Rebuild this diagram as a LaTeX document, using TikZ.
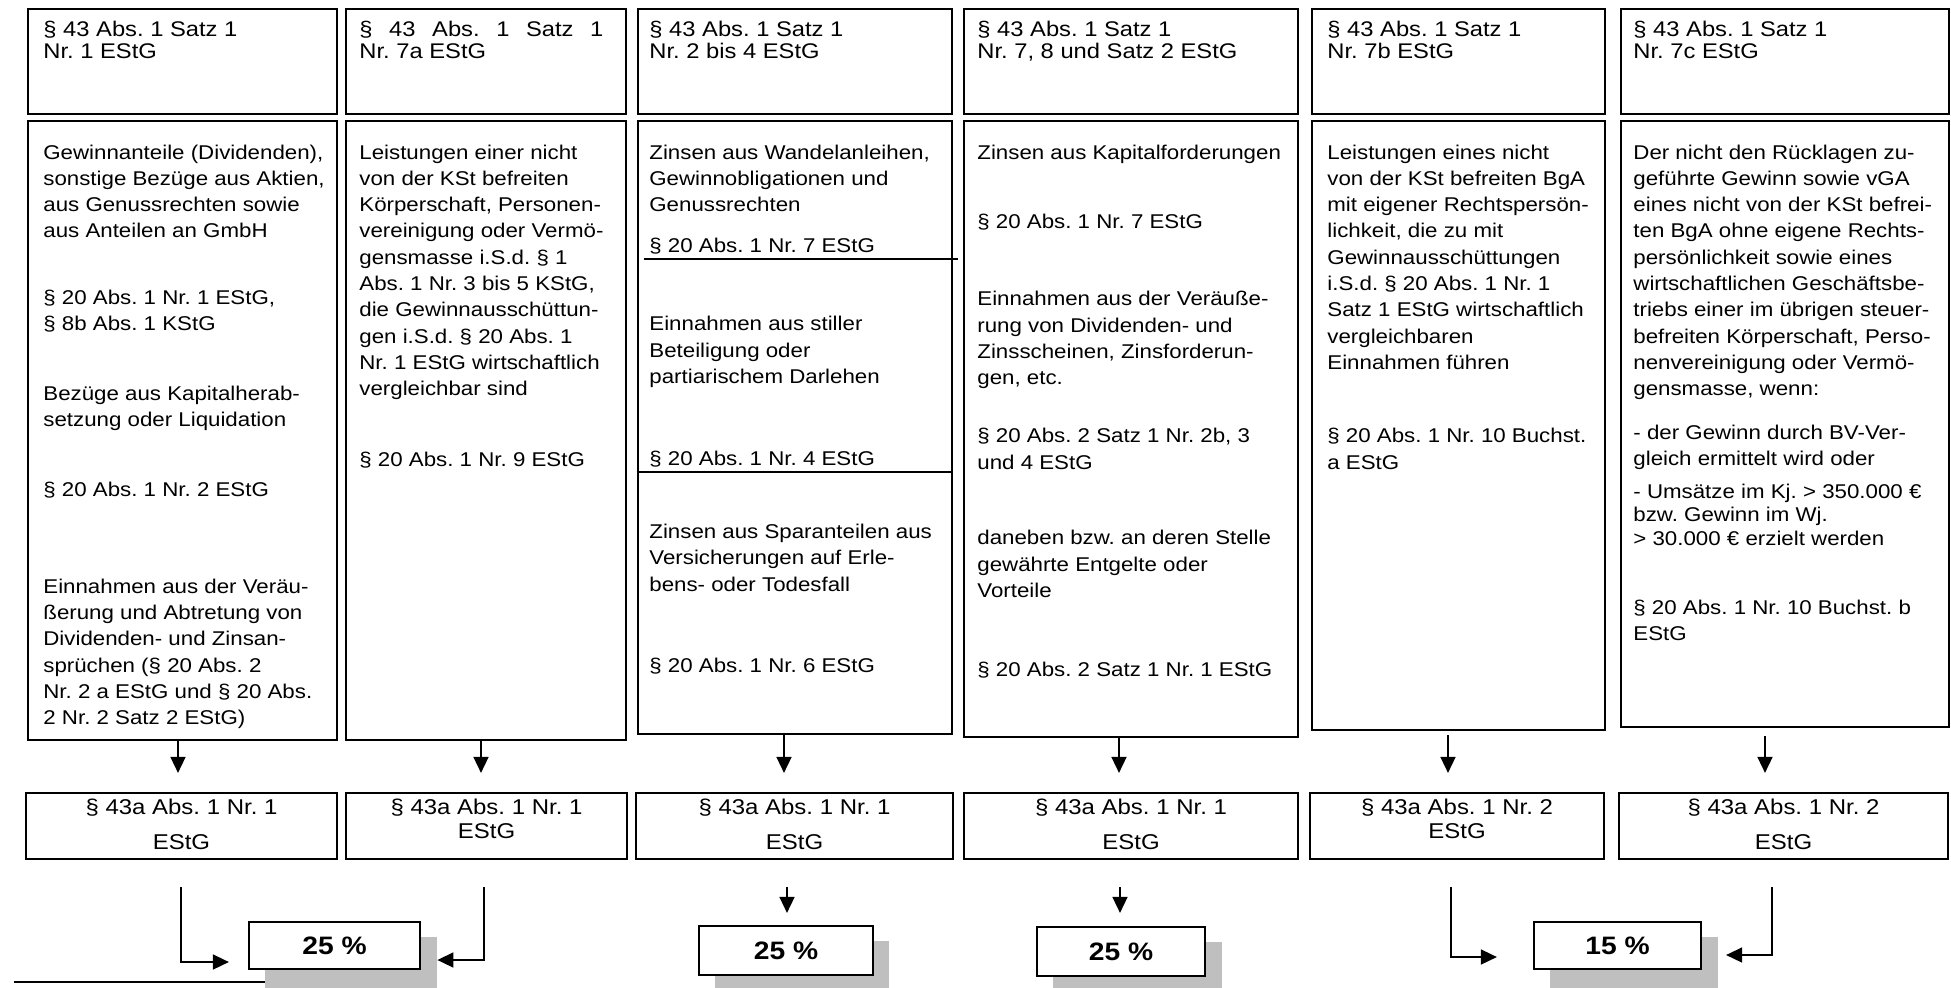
\documentclass[tikz,border=0pt]{standalone}
\usepackage{fontspec}
\setmainfont{Liberation Sans}[FakeStretch=1.12]
\usetikzlibrary{arrows.meta,fit}
\begin{document}
\frenchspacing
\begin{tikzpicture}[x=0.5pt,y=-0.5pt,
  frame/.style={draw=black, line width=1.1pt, inner sep=0pt, fill=white},
  shade/.style={fill=black!25, draw=none, inner sep=0pt},
  rule/.style={line width=1.1pt},
  txt/.style={anchor=base west, inner sep=0pt, text width=165pt, align=flush left,
    font=\fontsize{9.95pt}{13.15pt}\selectfont\frenchspacing},
  htxt/.style={anchor=base west, inner sep=0pt, text width=165pt, align=flush left,
    font=\fontsize{10.6pt}{11.3pt}\selectfont\frenchspacing},
  rtxt/.style={anchor=base, inner sep=0pt, text width=150pt, align=flush center,
    font=\fontsize{10.7pt}{17.5pt}\selectfont\frenchspacing},
  rtxtb/.style={rtxt, font=\fontsize{10.7pt}{12.3pt}\selectfont\frenchspacing},
  pcttxt/.style={inner sep=0pt, font=\fontsize{12.6pt}{14pt}\selectfont\bfseries},
  arr/.style={line width=0.8pt, -{Triangle[length=8pt,width=7.5pt]}},
]
\useasboundingbox (0,0) rectangle (1951,987);

% ---------- header boxes ----------
\node[frame, fit={(28,9) (337,114)}] (h1) {};
\node[frame, fit={(346,9) (626,114)}] (h2) {};
\node[frame, fit={(637.6,9) (952,114)}] (h3) {};
\node[frame, fit={(964,9) (1298,114)}] (h4) {};
\node[frame, fit={(1312,9) (1605,114)}] (h5) {};
\node[frame, fit={(1621,9) (1949,114)}] (h6) {};

\node[htxt] (h1t) at (43,36) {§ 43 Abs. 1 Satz 1\\Nr. 1 EStG};
\node[htxt] (h2t) at (359,36) {\makebox[122pt][l]{§ \hfill 43 \hfill Abs. \hfill 1 \hfill Satz \hfill 1}\\Nr. 7a EStG};
\node[htxt] (h3t) at (649,36) {§ 43 Abs. 1 Satz 1\\Nr. 2 bis 4 EStG};
\node[htxt] (h4t) at (977,36) {§ 43 Abs. 1 Satz 1\\Nr. 7, 8 und Satz 2 EStG};
\node[htxt] (h5t) at (1327,36) {§ 43 Abs. 1 Satz 1\\Nr. 7b EStG};
\node[htxt] (h6t) at (1633,36) {§ 43 Abs. 1 Satz 1\\Nr. 7c EStG};

% ---------- body boxes ----------
\node[frame, fit={(28,121) (337,740)}] (b1) {};
\node[frame, fit={(346,121) (626,740)}] (b2) {};
\node[frame, fit={(637.6,121) (952,734)}] (b3) {};
\node[frame, fit={(964,121) (1298,737)}] (b4) {};
\node[frame, fit={(1312,121) (1605,730)}] (b5) {};
\node[frame, fit={(1621,121) (1949,727)}] (b6) {};

% column 1
\node[txt] (t1a) at (43,159) {Gewinnanteile (Dividenden),\\sonstige Bezüge aus Aktien,\\aus Genussrechten sowie\\aus Anteilen an GmbH};
\node[txt] (t1b) at (43,304.6) {§ 20 Abs. 1 Nr. 1 EStG,\\§ 8b Abs. 1 KStG};
\node[txt] (t1c) at (43,400.4) {Bezüge aus Kapitalherab-\\setzung oder Liquidation};
\node[txt] (t1d) at (43,496.2) {§ 20 Abs. 1 Nr. 2 EStG};
\node[txt] (t1e) at (43,593.2) {Einnahmen aus der Veräu-\\ßerung und Abtretung von\\Dividenden- und Zinsan-\\sprüchen (§ 20 Abs. 2\\Nr. 2 a EStG und § 20 Abs.\\2 Nr. 2 Satz 2 EStG)};

% column 2
\node[txt] (t2a) at (359,159) {Leistungen einer nicht\\von der KSt befreiten\\Körperschaft, Personen-\\vereinigung oder Vermö-\\gensmasse i.S.d. § 1\\Abs. 1 Nr. 3 bis 5 KStG,\\die Gewinnausschüttun-\\gen i.S.d. § 20 Abs. 1\\Nr. 1 EStG wirtschaftlich\\vergleichbar sind};
\node[txt] (t2b) at (359,466.2) {§ 20 Abs. 1 Nr. 9 EStG};

% column 3
\node[txt] (t3a) at (649,159) {Zinsen aus Wandelanleihen,\\Gewinnobligationen und\\Genussrechten};
\node[txt] (t3b) at (649,252.3) {§ 20 Abs. 1 Nr. 7 EStG};
\coordinate (d1) at (0,258.8);
\draw[rule] ([xshift=3.5pt]b3.west |- d1) -- ([xshift=2.5pt]b3.east |- d1);
\node[txt] (t3c) at (649,330.7) {Einnahmen aus stiller\\Beteiligung oder\\partiarischem Darlehen};
\node[txt] (t3d) at (649,465.1) {§ 20 Abs. 1 Nr. 4 EStG};
\coordinate (d2) at (0,471.6);
\draw[rule] (b3.west |- d2) -- (b3.east |- d2);
\node[txt] (t3e) at (649,538.5) {Zinsen aus Sparanteilen aus\\Versicherungen auf Erle-\\bens- oder Todesfall};
\node[txt] (t3f) at (649,672.9) {§ 20 Abs. 1 Nr. 6 EStG};

% column 4
\node[txt] (t4a) at (977,159) {Zinsen aus Kapitalforderungen};
\node[txt] (t4b) at (977,228.7) {§ 20 Abs. 1 Nr. 7 EStG};
\node[txt] (t4c) at (977,305.8) {Einnahmen aus der Veräuße-\\rung von Dividenden- und\\Zinsscheinen, Zinsforderun-\\gen, etc.};
\node[txt] (t4d) at (977,442.7) {§ 20 Abs. 2 Satz 1 Nr. 2b, 3\\und 4 EStG};
\node[txt] (t4e) at (977,544.7) {daneben bzw. an deren Stelle\\gewährte Entgelte oder\\Vorteile};
\node[txt] (t4f) at (977,676.6) {§ 20 Abs. 2 Satz 1 Nr. 1 EStG};

% column 5
\node[txt] (t5a) at (1327,159) {Leistungen eines nicht\\von der KSt befreiten BgA\\mit eigener Rechtspersön-\\lichkeit, die zu mit\\Gewinnausschüttungen\\i.S.d. § 20 Abs. 1 Nr. 1\\Satz 1 EStG wirtschaftlich\\vergleichbaren\\Einnahmen führen};
\node[txt] (t5b) at (1327,442.7) {§ 20 Abs. 1 Nr. 10 Buchst.\\a EStG};

% column 6
\node[txt] (t6a) at (1633,159) {Der nicht den Rücklagen zu-\\geführte Gewinn sowie vGA\\eines nicht von der KSt befrei-\\ten BgA ohne eigene Rechts-\\persönlichkeit sowie eines\\wirtschaftlichen Geschäftsbe-\\triebs einer im übrigen steuer-\\befreiten Körperschaft, Perso-\\nenvereinigung oder Vermö-\\gensmasse, wenn:};
\node[txt] (t6b) at (1633,439) {- der Gewinn durch BV-Ver-\\gleich ermittelt wird oder};
\node[txt, font=\fontsize{9.95pt}{11.6pt}\selectfont\frenchspacing] (t6c) at (1633,498.7) {- Umsätze im Kj. > 350.000 €\\bzw. Gewinn im Wj.\\> 30.000 € erzielt werden};
\node[txt] (t6d) at (1633,614.4) {§ 20 Abs. 1 Nr. 10 Buchst. b\\EStG};

% ---------- § 43a boxes ----------
\node[frame, fit={(26,792.6) (337,858.6)}] (r1) {};
\node[frame, fit={(346,792.6) (627,858.6)}] (r2) {};
\node[frame, fit={(636,792.6) (953,858.6)}] (r3) {};
\node[frame, fit={(964,792.6) (1298,858.6)}] (r4) {};
\node[frame, fit={(1310,792.6) (1604,858.6)}] (r5) {};
\node[frame, fit={(1619,792.6) (1948,858.6)}] (r6) {};

\node[rtxt] (r1t) at (r1.center |- 0,814) {§ 43a Abs. 1 Nr. 1\\EStG};
\node[rtxtb] (r2t) at (r2.center |- 0,814) {§ 43a Abs. 1 Nr. 1\\EStG};
\node[rtxt] (r3t) at (r3.center |- 0,814) {§ 43a Abs. 1 Nr. 1\\EStG};
\node[rtxt] (r4t) at (r4.center |- 0,814) {§ 43a Abs. 1 Nr. 1\\EStG};
\node[rtxtb] (r5t) at (r5.center |- 0,814) {§ 43a Abs. 1 Nr. 2\\EStG};
\node[rtxt] (r6t) at (r6.center |- 0,814) {§ 43a Abs. 1 Nr. 2\\EStG};

% ---------- rate boxes with drop shadows ----------
\node[shade, fit={(265,937) (437,995)}] (sA) {};
\coordinate (ll) at (14,982);
\draw[line width=1pt] (ll) -- (ll -| sA.west);
\node[frame, fit={(249,922) (420,969)}] (pA) {};
\node[shade, fit={(715,941) (889,995)}] (sB) {};
\node[frame, fit={(699,926) (873,975)}] (pB) {};
\node[shade, fit={(1053,942) (1222,995)}] (sC) {};
\node[frame, fit={(1037,927) (1205,976)}] (pC) {};
\node[shade, fit={(1550,937) (1718,995)}] (sD) {};
\node[frame, fit={(1534,922) (1701,969)}] (pD) {};

\node[pcttxt] (pAt) at (pA.center) {25 \%};
\node[pcttxt] (pBt) at (pB.center) {25 \%};
\node[pcttxt] (pCt) at (pC.center) {25 \%};
\node[pcttxt] (pDt) at (pD.center) {15 \%};

% ---------- connectors ----------
\coordinate (a1) at (178,0);
\coordinate (a2) at (481,0);
\coordinate (a3) at (784,0);
\coordinate (a4) at (1119,0);
\coordinate (a5) at (1448,0);
\coordinate (a6) at (1765,0);
\draw[arr, shorten >=9.3pt] (b1.south -| a1) -- (r1.north -| a1);
\draw[arr, shorten >=9.3pt] (b2.south -| a2) -- (r2.north -| a2);
\draw[arr, shorten >=9.3pt] (b3.south -| a3) -- (r3.north -| a3);
\draw[arr, shorten >=9.3pt] (b4.south -| a4) -- (r4.north -| a4);
\draw[arr, shorten <=2pt, shorten >=9.3pt] (b5.south -| a5) -- (r5.north -| a5);
\draw[arr, shorten <=4pt, shorten >=9.3pt] (b6.south -| a6) -- (r6.north -| a6);

\coordinate (c1) at (181,962);
\coordinate (c2) at (484,960);
\coordinate (c3) at (787,0);
\coordinate (c4) at (1120,0);
\coordinate (c5) at (1451,957);
\coordinate (c6) at (1772,955);
\draw[arr, shorten <=13.7pt, shorten >=9.5pt] (r1.south -| c1) |- (pA.west |- c1);
\draw[arr, shorten <=13.7pt] (r2.south -| c2) |- (sA.east |- c2);
\draw[arr, shorten <=13.7pt, shorten >=6pt] (r3.south -| c3) -- (pB.north -| c3);
\draw[arr, shorten <=13.7pt, shorten >=6.5pt] (r4.south -| c4) -- (pC.north -| c4);
\draw[arr, shorten <=13.7pt, shorten >=18pt] (r5.south -| c5) |- (pD.west |- c5);
\draw[arr, shorten <=13.7pt, shorten >=12pt] (r6.south -| c6) |- (pD.east |- c6);
\end{tikzpicture}
\end{document}
